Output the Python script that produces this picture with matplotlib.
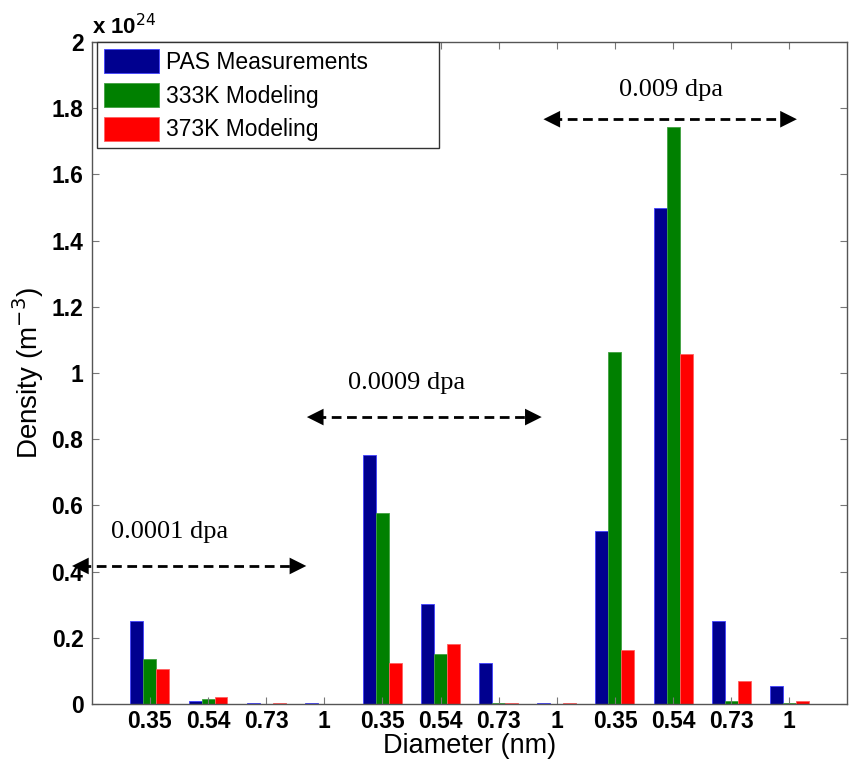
import numpy as np
import matplotlib.pyplot as plt

# Диаметры пор (nm), по 4 на каждую дозу
diameters = ["0.35", "0.54", "0.73", "1"] * 3
doses = ["0.0001 dpa", "0.0009 dpa", "0.009 dpa"]

# Плотность, единицы 10^24 m^-3
pas = [0.25, 0.010, 0.004, 0.004,
       0.752, 0.302, 0.124, 0.004,
       0.523, 1.500, 0.250, 0.054]
mod_333 = [0.136, 0.015, 0.001, 0.001,
           0.577, 0.151, 0.003, 0.001,
           1.063, 1.743, 0.008, 0.003]
mod_373 = [0.106, 0.020, 0.004, 0.001,
           0.124, 0.181, 0.003, 0.004,
           0.163, 1.057, 0.069, 0.009]

series = [
    (pas, "PAS Measurements", "#00008F", "#4040ff"),
    (mod_333, "333K Modeling", "#008000", "#40a040"),
    (mod_373, "373K Modeling", "#FF0000", "#ff6060"),
]

plt.rcParams["font.family"] = ["Liberation Sans", "DejaVu Sans"]

fig = plt.figure(figsize=(8.5, 7.59), dpi=100)
ax = fig.add_axes([0.108, 0.0725, 0.889, 0.872])

x = np.arange(1, len(diameters) + 1)
w = 0.223
for i, (vals, name, col, edge) in enumerate(series):
    ax.bar(x + (i - 1) * w, vals, width=w, color=col, edgecolor=edge,
           linewidth=0.6, label=name)

ax.set_xlim(0, 13)
ax.set_ylim(0, 2)
ax.set_xticks(x)
ax.set_xticklabels(diameters)
ax.set_yticks(np.arange(0, 2.01, 0.2))
ax.set_yticklabels([f"{v:g}" for v in np.arange(0, 2.01, 0.2).round(1)])
ax.tick_params(direction="in", length=5, top=True, right=True,
               labelsize=16.5, color="#777777", pad=6)
ax.tick_params(axis="x", pad=4)
for lbl in ax.get_xticklabels() + ax.get_yticklabels():
    lbl.set_fontweight("bold")
for sp in ax.spines.values():
    sp.set_color("#555555")
    sp.set_linewidth(1.0)

ax.set_xlabel("Diameter (nm)", fontsize=19.5)
ax.xaxis.set_label_coords(0.5, -0.044)
ax.set_ylabel("Density (m$^{-3}$)", fontsize=20, labelpad=4)
ax.text(0.0, 1.005, "x 10$^{24}$", transform=ax.transAxes, fontsize=16,
        fontweight="bold", ha="left", va="bottom")

# Стрелки с подписью дозы: пунктир + сплошные наконечники
arrows = [(-0.34, 3.69, 0.417, 1.34, 0.52),
          (3.70, 7.74, 0.867, 5.42, 0.97),
          (7.77, 12.13, 1.767, 9.97, 1.855)]
for (x0, x1, y, tx, ty), dose in zip(arrows, doses):
    ax.plot([x0 + 0.15, x1 - 0.15], [y, y], color="black", lw=2,
            linestyle=(0, (3.5, 2)), clip_on=False)
    for tip, back in [(x0, x0 + 0.3), (x1, x1 - 0.3)]:
        ax.annotate("", xy=(tip, y), xytext=(back, y), annotation_clip=False,
                    arrowprops=dict(arrowstyle="-|>", color="black", lw=0,
                                    mutation_scale=30, shrinkA=0, shrinkB=0))
    ax.text(tx, ty, dose, fontsize=19, family="Liberation Serif",
            ha="center", va="center")

leg = ax.legend(loc="upper left", bbox_to_anchor=(0.0066, 0.0, 0.453, 1.0),
                mode="expand", fontsize=16.5, handlelength=2.4,
                handleheight=1.23, labelspacing=0.4, borderpad=0.3,
                handletextpad=0.3, borderaxespad=0.0, fancybox=False,
                framealpha=1)
leg.get_frame().set_edgecolor("#333333")
leg.get_frame().set_linewidth(1.0)

fig.savefig("out.png", dpi=100)
